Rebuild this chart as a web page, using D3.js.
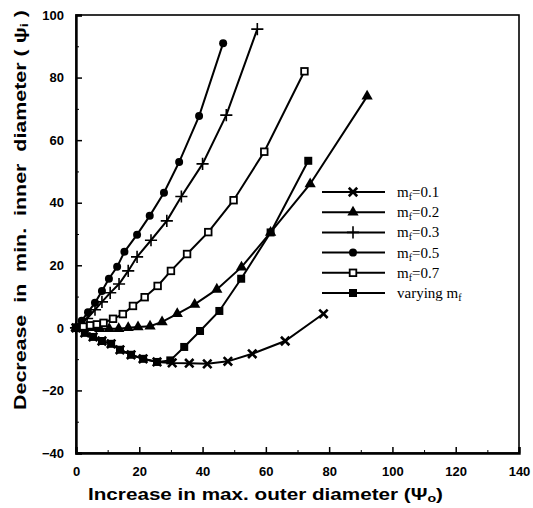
<!DOCTYPE html>
<html>
<head>
<meta charset="utf-8">
<script src="https://cdn.jsdelivr.net/npm/d3@7"></script>
<style>
  body { margin: 0; background: #fff; }
  .tick-label { font-family: "Liberation Sans", Arial, sans-serif; font-weight: bold; font-size: 13px; }
  .axis-title { font-family: "Liberation Sans", Arial, sans-serif; font-weight: bold; font-size: 16px; white-space: pre; }
  .legend-text { font-family: "Liberation Serif", "Times New Roman", serif; font-size: 15px; }
</style>
</head>
<body>
<svg id="chart" width="533" height="508"></svg>
<script>
// values: [x (increase in max outer dia), y (decrease in min inner dia)]
var mf01 = [[0,0],[2.8,-1.6],[5.4,-2.9],[8.2,-4.2],[11.1,-5.1],[13.9,-7],[17.4,-8.6],[21.2,-9.9],[25.6,-10.9],[30.4,-11.2],[35.8,-11.3],[41.5,-11.5],[48,-10.7],[55.7,-8.3],[66.1,-4.2],[78.2,4.5]];
var mf02 = [[0,0],[2.5,0.3],[5,0],[7.5,-0.3],[10.5,-0.3],[13.5,-0.3],[16.5,0],[19.6,0.3],[23.4,0.5],[27.2,1.9],[32,4.5],[37.5,7.5],[44.5,12.3],[52.3,19.4],[61.5,30.5],[74,46],[92,74]];
var mf03 = [[0,0],[1.5,1.2],[3.5,3],[6,5.8],[8.2,8.3],[10.8,11.2],[13.6,14],[16.5,18.2],[19.3,22.7],[23.7,28],[28.7,34.2],[33.3,42],[40,52.4],[47.5,68],[57.3,95.5]];
var mf05 = [[0,0],[1.8,2.3],[3.8,5],[6,8],[8.2,11.8],[10.4,15.7],[13,19.5],[15.3,24.3],[19.3,29.8],[23.3,35.8],[27.8,43.2],[32.6,53],[38.9,67.7],[46.5,91]];
var mf07 = [[0,0],[2.3,0.4],[4.5,0.8],[6.6,1.1],[8.7,1.6],[11.7,2.9],[14.8,4.4],[18,7],[21.7,9.8],[25.8,13.4],[30,18.2],[35.1,23.6],[41.8,30.6],[49.8,40.8],[59.5,56.3],[72.2,82]];
var varying = [[0,0],[2.8,-1.6],[5.4,-2.9],[8.2,-4.2],[11.1,-5.1],[13.9,-7],[17.4,-8.6],[21.2,-9.9],[25.6,-10.9],[29.8,-10.4],[34.2,-6.1],[39.2,-1],[45.3,5.4],[52.2,15.7],[61.5,30.5],[73.4,53.4]];

var seriesNames = ["=0.1", "=0.2", "=0.3", "=0.5", "=0.7", "varying"];
var seriesData = [mf01, mf02, mf03, mf05, mf07, varying];
var markerKinds = ["times", "triangle", "plus", "circle", "openSquare", "square"];

var xTicks = [0, 20, 40, 60, 80, 100, 120, 140];
var yTicks = [-40, -20, 0, 20, 40, 60, 80, 100];

var svg = d3.select("#chart"),
    margin = {top: 15, right: 14, bottom: 55, left: 76},
    width = 533 - margin.left - margin.right,
    height = 508 - margin.top - margin.bottom,
    g = svg.append("g").attr("transform", "translate(" + margin.left + "," + margin.top + ")");

var x = d3.scaleLinear().domain([0, 140]).range([0, width]);
var y = d3.scaleLinear().domain([-40, 100]).range([height, 0]);

// frame
g.append("rect")
    .attr("width", width).attr("height", height)
    .attr("fill", "none").attr("stroke", "#000").attr("stroke-width", 1.6);

// minor ticks, inward
g.append("g")
    .attr("transform", "translate(0," + height + ")")
    .call(d3.axisBottom(x).tickValues(d3.range(10, 140, 20)).tickSize(-3).tickFormat(""))
    .call(s => s.select(".domain").remove());
g.append("g")
    .call(d3.axisLeft(y).tickValues(d3.range(-30, 100, 20)).tickSize(-3).tickFormat(""))
    .call(s => s.select(".domain").remove());

// major ticks + labels
var xAxis = g.append("g")
    .attr("transform", "translate(0," + height + ")")
    .call(d3.axisBottom(x).tickValues(xTicks).tickSize(-6).tickPadding(14));
xAxis.select(".domain").attr("stroke-width", 2.4);
xAxis.selectAll("line").attr("stroke-width", 1.5);
xAxis.selectAll("text").attr("class", "tick-label").attr("fill", "#000");

var yAxis = g.append("g")
    .call(d3.axisLeft(y).tickValues(yTicks).tickSize(-6).tickPadding(12));
yAxis.select(".domain").attr("stroke-width", 2.4);
yAxis.selectAll("line").attr("stroke-width", 1.5);
yAxis.selectAll("text").attr("class", "tick-label").attr("fill", "#000");

// axis titles
var xt = svg.append("text")
    .attr("class", "axis-title")
    .attr("x", 88).attr("y", 500)
    .attr("textLength", 355).attr("lengthAdjust", "spacingAndGlyphs")
    .text("Increase in max. outer diameter (\u03A8");
xt.append("tspan").attr("font-size", "11px").attr("dy", 2).text("o");
xt.append("tspan").attr("dy", -2).text(")");

var yt = svg.append("text")
    .attr("class", "axis-title")
    .attr("transform", "translate(26,410) rotate(-90)")
    .attr("textLength", 400).attr("lengthAdjust", "spacingAndGlyphs")
    .text("Decrease  in  min.  inner  diameter ( \u03C8");
yt.append("tspan").attr("font-size", "11px").attr("dy", 2).text("i");
yt.append("tspan").attr("dy", -2).text(" )");

// markers
function drawMarker(sel, kind) {
  if (kind === "times") {
    sel.append("path").attr("d", d3.symbol().type(d3.symbolTimes).size(48)())
      .attr("fill", "none").attr("stroke", "#000").attr("stroke-width", 2.6);
  } else if (kind === "plus") {
    sel.append("path").attr("d", d3.symbol().type(d3.symbolPlus).size(50)())
      .attr("fill", "none").attr("stroke", "#000").attr("stroke-width", 1.6);
  } else if (kind === "triangle") {
    sel.append("path").attr("d", d3.symbol().type(d3.symbolTriangle).size(55)())
      .attr("fill", "#000");
  } else if (kind === "circle") {
    sel.append("circle").attr("r", 4).attr("fill", "#000");
  } else if (kind === "openSquare") {
    sel.append("rect").attr("x", -3.3).attr("y", -3.3).attr("width", 6.6).attr("height", 6.6)
      .attr("fill", "#fff").attr("stroke", "#000").attr("stroke-width", 1.8);
  } else {
    sel.append("rect").attr("x", -4).attr("y", -4).attr("width", 8).attr("height", 8)
      .attr("fill", "#000");
  }
}

var line = d3.line()
    .x(function(d) { return x(d[0]); })
    .y(function(d) { return y(d[1]); });

seriesData.forEach(function(data, i) {
  g.append("path")
      .datum(data)
      .attr("d", line)
      .attr("fill", "none").attr("stroke", "#000").attr("stroke-width", 2);
  g.selectAll(".pt" + i)
      .data(data)
    .enter().append("g")
      .attr("class", "pt" + i)
      .attr("transform", function(d) { return "translate(" + x(d[0]) + "," + y(d[1]) + ")"; })
      .each(function() { drawMarker(d3.select(this), markerKinds[i]); });
});

// legend
var legend = svg.append("g").attr("transform", "translate(322,192)");
seriesNames.forEach(function(name, i) {
  var row = legend.append("g").attr("transform", "translate(0," + (i * 20.2) + ")");
  row.append("line").attr("x1", 0).attr("x2", 63).attr("stroke", "#000").attr("stroke-width", 2);
  var m = row.append("g").attr("transform", "translate(31,0)");
  drawMarker(m, markerKinds[i]);
  var t = row.append("text").attr("class", "legend-text").attr("x", 75).attr("y", 5);
  if (name === "varying") {
    t.text("varying  m");
    t.append("tspan").attr("font-size", "10px").attr("dy", 3).text("f");
  } else {
    t.text("m");
    t.append("tspan").attr("font-size", "10px").attr("dy", 3).text("f");
    t.append("tspan").attr("dy", -3).text(name);
  }
});
</script>
</body>
</html>
